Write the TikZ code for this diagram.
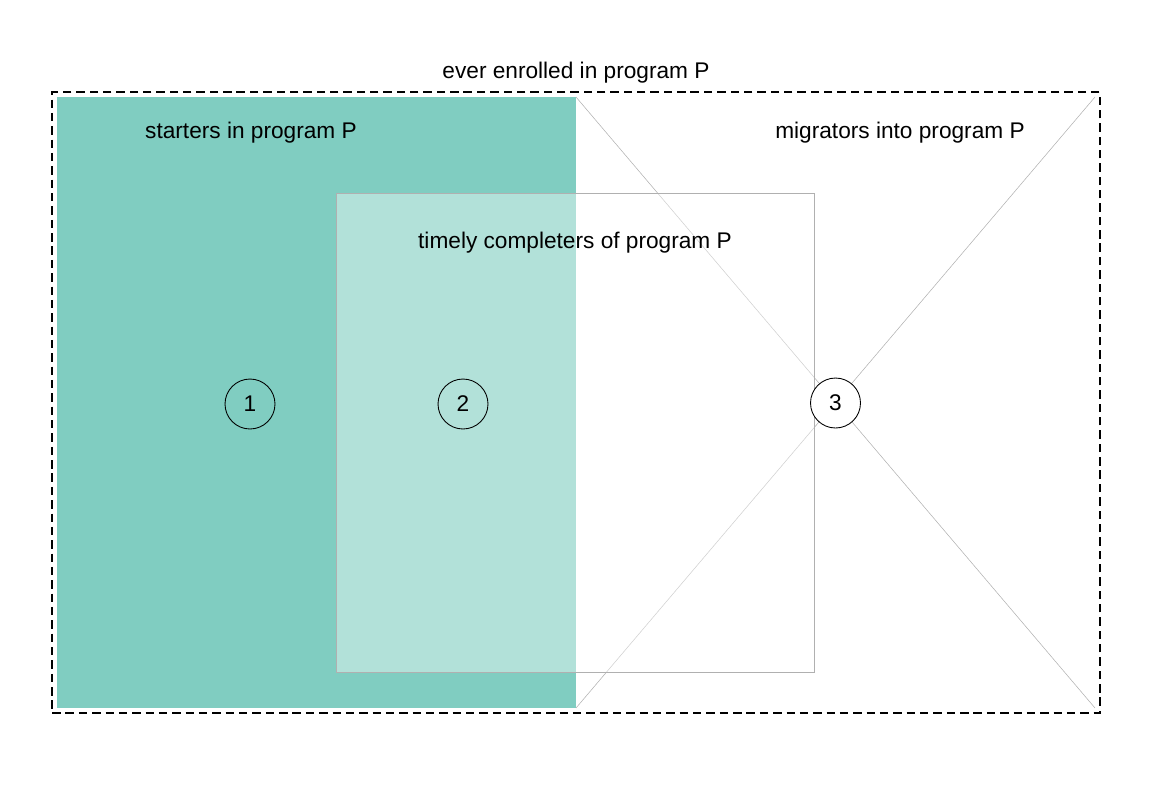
\documentclass[tikz,border=0pt]{standalone}
\usepackage{fontspec}
\setmainfont{Liberation Sans}
\begin{document}
\begin{tikzpicture}[
  x=0.02cm,
  y=-0.02cm,
  area/.style={inner sep=0pt, outer sep=0pt},
  startbox/.style={area, fill=teal80, minimum width=10.38cm, minimum height=12.22cm},
  migbox/.style={area, minimum width=10.38cm, minimum height=12.22cm},
  compbox/.style={area, draw=gray70, line width=0.6pt, fill=white, fill opacity=0.4, minimum width=9.58cm, minimum height=9.6cm},
  everbox/.style={area, draw=black, line width=1.1pt, dash pattern=on 4.8pt off 2.8pt, minimum width=20.96cm, minimum height=12.42cm},
  cross/.style={gray70, line width=0.3pt},
  label/.style={font=\fontsize{12.9}{15}\selectfont, inner sep=1pt},
  num/.style={circle, draw=black, line width=0.5pt, minimum size=1cm, inner sep=0pt, font=\fontsize{12.9}{15}\selectfont}
]
\definecolor{teal80}{HTML}{80CDC1}
\definecolor{gray70}{HTML}{B0B0B0}
\path[use as bounding box] (0,0) rectangle (1152,806);

\node[startbox] (starters) at (316.5,402.5) {};
\node[migbox] (migrators) at (835.5,402.5) {};
\draw[cross] (migrators.north west) -- (migrators.south east);
\draw[cross] (migrators.north east) -- (migrators.south west);
\node[compbox] (completers) at (575.5,433) {};
\node[everbox] (ever) at (576,402.5) {};

\node[label] (everlab) at (576,73) {ever enrolled in program P};
\node[label] (startlab) at (251,133) {starters in program P};
\node[label] (miglab) at (900,133) {migrators into program P};
\node[label] (complab) at (575,243) {timely completers of program P};

\node[num] (one) at (250,404) {1};
\node[num] (two) at (463,404) {2};
\node[num, fill=white] (three) at (835.5,403) {3};
\end{tikzpicture}
\end{document}
